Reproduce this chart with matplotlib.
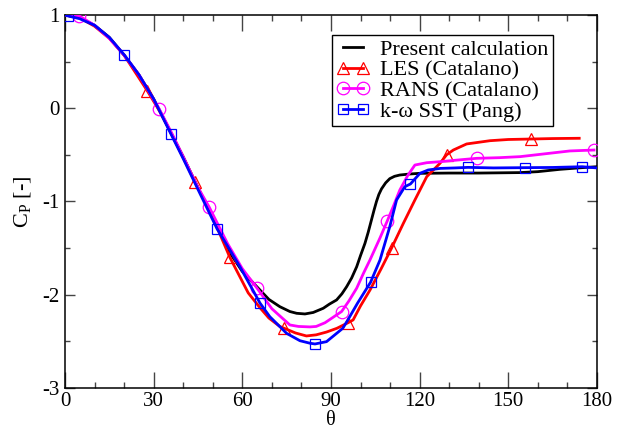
import numpy as np
import matplotlib
matplotlib.use("Agg")
import matplotlib.pyplot as plt
from matplotlib.ticker import MultipleLocator

plt.rcParams['font.family'] = ['Liberation Serif', 'DejaVu Serif']
plt.rcParams['mathtext.fontset'] = 'custom'
plt.rcParams['mathtext.rm'] = 'Liberation Serif'
plt.rcParams['axes.unicode_minus'] = False

# Present calculation
present_theta = [0, 5, 10, 15, 20, 25, 30, 36, 40, 45, 50, 55.8, 60, 65.4, 69, 72.7,
                 76.1, 78.4, 81.2, 84, 87.4, 89.5, 91.9, 93.7, 95.3, 97, 98.7, 100,
                 101.5, 102.6, 103.7, 104.6, 105.4, 106.2, 107.1, 108.5, 109.9, 111.5,
                 113.3, 116.7, 120, 130, 140, 154, 160, 167.5, 175, 180]
present_cp = [1.0, 0.97, 0.89, 0.76, 0.57, 0.36, 0.1, -0.27, -0.52, -0.85, -1.17, -1.55,
              -1.75, -1.93, -2.05, -2.128, -2.18, -2.199, -2.206, -2.19, -2.145, -2.1,
              -2.056, -1.99, -1.914, -1.82, -1.70, -1.58, -1.449, -1.33, -1.198, -1.09,
              -1.0, -0.925, -0.865, -0.8, -0.755, -0.73, -0.716, -0.705, -0.698,
              -0.695, -0.695, -0.69, -0.68, -0.655, -0.637, -0.627]

# LES (Catalano)
les_theta = [0, 5, 10, 15, 20, 27.8, 32, 36, 40, 44, 50, 55.8, 62, 66, 69, 72.7, 74.2,
             78, 81.7, 85, 88.5, 92, 95.8, 97.5, 100, 103.2, 107, 110.5, 114.5, 118.4,
             122.4, 126.9, 129.1, 131.4, 135.9, 143.8, 150, 157.6, 165, 174]
les_cp = [1.0, 0.97, 0.88, 0.75, 0.57, 0.19, -0.03, -0.27, -0.53, -0.79, -1.17, -1.6,
          -1.98, -2.14, -2.25, -2.34, -2.36, -2.41, -2.442, -2.43, -2.4, -2.36, -2.3,
          -2.27, -2.12, -1.95, -1.72, -1.5, -1.234, -0.984, -0.734, -0.59, -0.5, -0.448,
          -0.383, -0.348, -0.335, -0.33, -0.325, -0.322]
les_sym = [27.8, 44, 55.8, 74.2, 95.8, 110.5, 129.1, 157.6]

# RANS (Catalano)
rans_theta = [0, 4.7, 10, 15, 20, 25, 31.9, 36, 40, 45, 48.8, 55, 60, 65, 70, 76.1,
              79, 82.9, 85, 88, 90.2, 93.6, 96, 98.7, 101, 103.2, 106.6, 109.1, 111,
              113.3, 116, 118.4, 122.4, 127, 133, 139.3, 147, 154, 162, 170.8, 179]
rans_cp = [1.0, 0.993, 0.89, 0.75, 0.57, 0.36, -0.008, -0.26, -0.52, -0.85, -1.06,
           -1.45, -1.72, -1.93, -2.15, -2.324, -2.34, -2.345, -2.34, -2.3, -2.253, -2.18,
           -2.07, -1.93, -1.77, -1.627, -1.39, -1.205, -1.06, -0.877, -0.72, -0.609,
           -0.584, -0.573, -0.555, -0.537, -0.53, -0.519, -0.49, -0.458, -0.448]
rans_sym = [4.7, 31.9, 48.8, 65, 93.6, 109.1, 139.3, 179]

# k-omega SST (Pang)
sst_theta = [0, 1, 5, 10, 15, 20.1, 25, 30, 35.9, 40, 45, 51.5, 56, 59.2, 66, 69.3,
             75, 79.5, 82.9, 84.6, 88.5, 94, 95.7, 99, 103.4, 106.6, 109.9, 112.2, 115,
             116.9, 120.1, 122.9, 127, 132, 136.4, 145, 155.7, 165, 175, 180]
sst_cp = [1.0, 0.99, 0.96, 0.89, 0.76, 0.571, 0.36, 0.1, -0.279, -0.54, -0.87, -1.295,
          -1.53, -1.7, -2.09, -2.235, -2.414, -2.493, -2.52, -2.528, -2.503, -2.36,
          -2.271, -2.09, -1.866, -1.627, -1.27, -0.984, -0.841, -0.812, -0.698, -0.662,
          -0.645, -0.64, -0.634, -0.64, -0.637, -0.635, -0.627, -0.64]
sst_sym = [1, 20.1, 35.9, 51.5, 66, 84.6, 103.4, 116.9, 136.4, 155.7, 175]

labels = ["Present calculation", "LES (Catalano)", "RANS (Catalano)", "k-\u03c9 SST (Pang)"]
x_ticks = [0, 30, 60, 90, 120, 150, 180]
y_ticks = [-3, -2, -1, 0, 1]


def marked(theta, sym):
    return [i for i, t in enumerate(theta) if t in sym]


fig = plt.figure(figsize=(6.17, 4.30), dpi=100)
ax = fig.add_axes([0.1053, 0.0977, 0.8622, 0.8674])

ax.plot(present_theta, present_cp, color='black', lw=2.0, label=labels[0], zorder=3)
ax.plot(les_theta, les_cp, color='#ff0000', lw=2.0, marker='^', ms=8,
        mfc='none', mec='#ff0000', mew=0.9,
        markevery=marked(les_theta, les_sym), label=labels[1], zorder=4)
ax.plot(rans_theta, rans_cp, color='#ff00ff', lw=2.0, marker='o', ms=9,
        mfc='none', mec='#ff00ff', mew=0.9,
        markevery=marked(rans_theta, rans_sym), label=labels[2], zorder=5)
ax.plot(sst_theta, sst_cp, color='#0000ff', lw=2.0, marker='s', ms=7.5,
        mfc='none', mec='#0000ff', mew=0.9,
        markevery=marked(sst_theta, sst_sym), label=labels[3], zorder=6)

ax.set_xlim(0, 180)
ax.set_ylim(-3, 1)
ax.set_xticks(x_ticks)
ax.set_yticks(y_ticks)
ax.xaxis.set_minor_locator(MultipleLocator(10))
ax.yaxis.set_minor_locator(MultipleLocator(0.5))
ax.tick_params(axis='both', which='both', direction='in', top=True, right=True,
               color='#444444', width=1.0, labelsize=15)
ax.tick_params(axis='x', which='major', length=11.5, pad=3)
ax.tick_params(axis='x', which='minor', length=4)
ax.tick_params(axis='y', which='major', length=7.5, pad=4)
ax.tick_params(axis='y', which='minor', length=3.6)
for s in ax.spines.values():
    s.set_linewidth(1.1)

ax.set_xlabel("\u03b8", fontsize=14.5)
ax.xaxis.set_label_coords(0.5, -0.063)
ax.xaxis.label.set_verticalalignment('top')
ax.set_ylabel(r"C$_\mathrm{P}$ [-]", fontsize=16, labelpad=6)

leg = ax.legend(loc='upper left', bbox_to_anchor=(0.502, 0.946), borderaxespad=0,
                fontsize=16, numpoints=2, handlelength=1.5, handletextpad=0.45,
                borderpad=0.2, labelspacing=0.0, fancybox=False, framealpha=1,
                edgecolor='black')
leg.get_frame().set_linewidth(1.0)

fig.savefig("out.png", dpi=100)
